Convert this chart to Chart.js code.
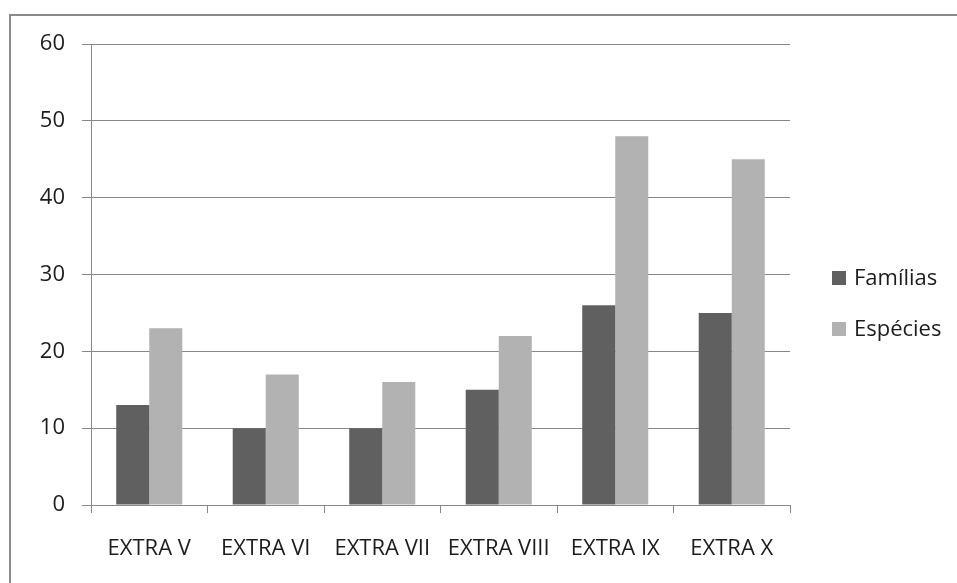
<!DOCTYPE html>
<html>
<head>
<meta charset="utf-8">
<script src="https://cdn.jsdelivr.net/npm/chart.js@4/dist/chart.umd.min.js"></script>
<style>
  html, body { margin: 0; padding: 0; background: #fff; }
  #wrap { position: relative; width: 957px; height: 583px; }
  canvas { display: block; }
</style>
</head>
<body>
<div id="wrap"><canvas id="c" width="957" height="583"></canvas></div>
<script>
// Survey campaigns and counts per campaign
const categories = ['EXTRA V', 'EXTRA VI', 'EXTRA VII', 'EXTRA VIII', 'EXTRA IX', 'EXTRA X'];
const familias = [13, 10, 10, 15, 26, 25];
const especies = [23, 17, 16, 22, 48, 45];
const yTicks = [0, 10, 20, 30, 40, 50, 60];

const FONT = "'Open Sans', 'DejaVu Sans', sans-serif";
const GRID = '#888888';
const TEXT = '#1c1c1c';

// Frame around the whole chart (left and top edges are in view)
const framePlugin = {
  id: 'frame',
  beforeDraw(chart) {
    const ctx = chart.ctx;
    ctx.save();
    ctx.strokeStyle = '#8a8a8a';
    ctx.lineWidth = 2;
    ctx.beginPath();
    ctx.moveTo(10, chart.height + 5);
    ctx.lineTo(10, 15);
    ctx.lineTo(chart.width + 5, 15);
    ctx.stroke();
    ctx.restore();
  }
};

// Legend drawn to the right of the plot area, one row per dataset
const sideLegend = {
  id: 'sideLegend',
  afterDraw(chart) {
    const ctx = chart.ctx;
    const area = chart.chartArea;
    const sets = chart.data.datasets;
    const rowGap = 51;
    const boxSize = 14;
    const boxX = area.right + 42;
    const firstY = 278;
    ctx.save();
    ctx.font = '22px ' + FONT;
    ctx.textBaseline = 'middle';
    ctx.textAlign = 'left';
    sets.forEach((ds, i) => {
      const cy = firstY + i * rowGap;
      ctx.fillStyle = ds.backgroundColor;
      ctx.fillRect(boxX, cy - boxSize / 2, boxSize, boxSize);
      ctx.fillStyle = TEXT;
      ctx.fillText(ds.label, boxX + boxSize + 8, cy + 1);
    });
    ctx.restore();
  }
};

new Chart(document.getElementById('c'), {
  type: 'bar',
  data: {
    labels: categories,
    datasets: [
      { label: 'Famílias', data: familias, backgroundColor: '#606060',
        categoryPercentage: 0.567, barPercentage: 1.0 },
      { label: 'Espécies', data: especies, backgroundColor: '#b2b2b2',
        categoryPercentage: 0.567, barPercentage: 1.0 }
    ]
  },
  options: {
    responsive: false,
    animation: false,
    devicePixelRatio: 1,
    layout: { padding: { left: 0, right: 167, top: 44, bottom: 0 } },
    plugins: {
      legend: { display: false },
      tooltip: { enabled: false }
    },
    scales: {
      x: {
        afterFit(scale) { scale.height = 78; },
        grid: { drawOnChartArea: false, drawTicks: true, tickLength: 8, color: GRID, offset: true },
        border: { display: true, color: GRID, width: 1 },
        ticks: { color: TEXT, font: { family: FONT, size: 22 }, padding: 23, maxRotation: 0, autoSkip: false }
      },
      y: {
        min: 0,
        max: 60,
        afterFit(scale) { scale.width = 91; },
        afterBuildTicks(scale) { scale.ticks = yTicks.map(v => ({ value: v })); },
        grid: { color: GRID, tickLength: 9, drawTicks: true },
        border: { display: true, color: GRID, width: 1 },
        ticks: { color: TEXT, font: { family: FONT, size: 22 }, padding: 17 }
      }
    }
  },
  plugins: [framePlugin, sideLegend]
});
</script>
</body>
</html>
